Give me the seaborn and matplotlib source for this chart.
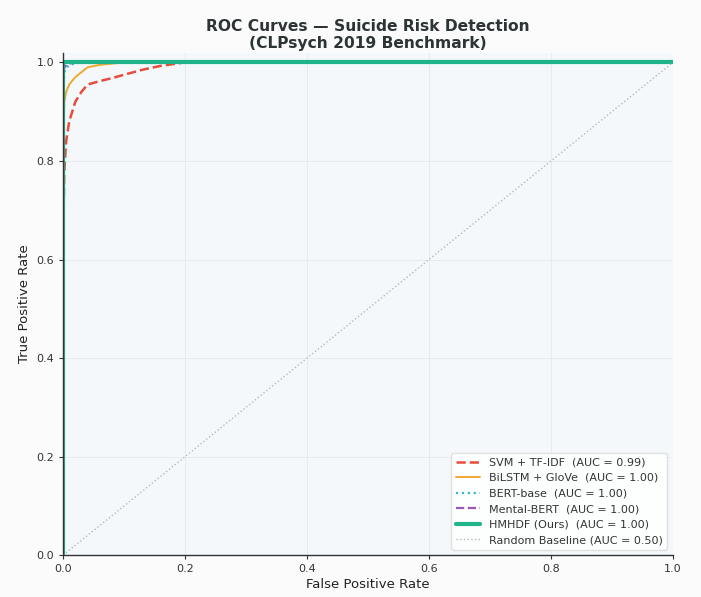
import numpy as np
import matplotlib
matplotlib.use("Agg")
import matplotlib.pyplot as plt
import seaborn as sns

# ROC points
svm_fpr = [0.0, 0.0, 0.002, 0.005, 0.01, 0.02, 0.03, 0.04, 0.06, 0.08, 0.10, 0.13, 0.16, 0.20, 1.0]
svm_tpr = [0.0, 0.62, 0.78, 0.84, 0.88, 0.92, 0.94, 0.955, 0.962, 0.968, 0.975, 0.985, 0.993, 1.0, 1.0]

bilstm_fpr = [0.0, 0.0, 0.002, 0.005, 0.01, 0.02, 0.03, 0.04, 0.06, 0.10, 1.0]
bilstm_tpr = [0.0, 0.80, 0.92, 0.94, 0.955, 0.97, 0.98, 0.99, 0.995, 1.0, 1.0]

bert_fpr = [0.0, 0.0, 0.003, 0.01, 0.03, 1.0]
bert_tpr = [0.0, 0.95, 0.985, 0.995, 1.0, 1.0]

mental_fpr = [0.0, 0.0, 0.002, 0.008, 0.02, 1.0]
mental_tpr = [0.0, 0.97, 0.99, 0.997, 1.0, 1.0]

hmhdf_fpr = [0.0, 0.0, 1.0]
hmhdf_tpr = [0.0, 1.0, 1.0]

rand_fpr = [0.0, 1.0]
rand_tpr = [0.0, 1.0]

labels = [
    "SVM + TF-IDF  (AUC = 0.99)",
    "BiLSTM + GloVe  (AUC = 1.00)",
    "BERT-base  (AUC = 1.00)",
    "Mental-BERT  (AUC = 1.00)",
    "HMHDF (Ours)  (AUC = 1.00)",
    "Random Baseline (AUC = 0.50)",
]

sns.set_style("whitegrid")
plt.rcParams["font.family"] = ["DejaVu Sans"]

fig, ax = plt.subplots(figsize=(7.01, 5.97), dpi=100)
fig.patch.set_facecolor("#fbfbfb")
ax.set_facecolor("#f5f8fb")

sns.lineplot(x=svm_fpr, y=svm_tpr, ax=ax, color="#e74c3c", linestyle="--",
             dashes=(3, 2), linewidth=1.8, label=labels[0], sort=False, estimator=None)
sns.lineplot(x=bilstm_fpr, y=bilstm_tpr, ax=ax, color="#f0a830", linestyle="-",
             linewidth=1.4, label=labels[1], sort=False, estimator=None)
sns.lineplot(x=bert_fpr, y=bert_tpr, ax=ax, color="#3bb4d8", linestyle=":",
             linewidth=1.6, label=labels[2], sort=False, estimator=None)
sns.lineplot(x=mental_fpr, y=mental_tpr, ax=ax, color="#9b59b6", linestyle="--",
             dashes=(4, 2), linewidth=1.6, label=labels[3], sort=False, estimator=None)
sns.lineplot(x=hmhdf_fpr, y=hmhdf_tpr, ax=ax, color="#1fb489", linestyle="-",
             linewidth=3.0, label=labels[4], sort=False, estimator=None)
sns.lineplot(x=rand_fpr, y=rand_tpr, ax=ax, color="#b8b8b8", linestyle=":",
             linewidth=1.0, label=labels[5], sort=False, estimator=None)

ax.set_xlim(0, 1)
ax.set_ylim(0, 1.02)
ax.set_xticks([0.0, 0.2, 0.4, 0.6, 0.8, 1.0])
ax.set_yticks([0.0, 0.2, 0.4, 0.6, 0.8, 1.0])
ax.tick_params(labelsize=8, colors="#333333", length=3, left=True, bottom=True)

ax.set_xlabel("False Positive Rate", fontsize=9.5, color="#222222", labelpad=3)
ax.set_ylabel("True Positive Rate", fontsize=9.5, color="#222222")
ax.set_title("ROC Curves \u2014 Suicide Risk Detection\n(CLPsych 2019 Benchmark)",
             fontsize=11.2, fontweight="bold", color="#2d3436", pad=3)

for spine in ["top", "right"]:
    ax.spines[spine].set_visible(False)
for spine in ["left", "bottom"]:
    ax.spines[spine].set_color("#333333")
    ax.spines[spine].set_linewidth(1.0)

ax.grid(True, color="#e8ebee", linewidth=0.7)

leg = ax.legend(loc="lower right", fontsize=8, frameon=True, framealpha=0.9,
                edgecolor="#dddddd", handlelength=2.2)
for t in leg.get_texts():
    t.set_color("#333333")

fig.subplots_adjust(left=0.09, right=0.96, top=0.912, bottom=0.07)
fig.savefig("out.png", dpi=100, facecolor=fig.get_facecolor())
